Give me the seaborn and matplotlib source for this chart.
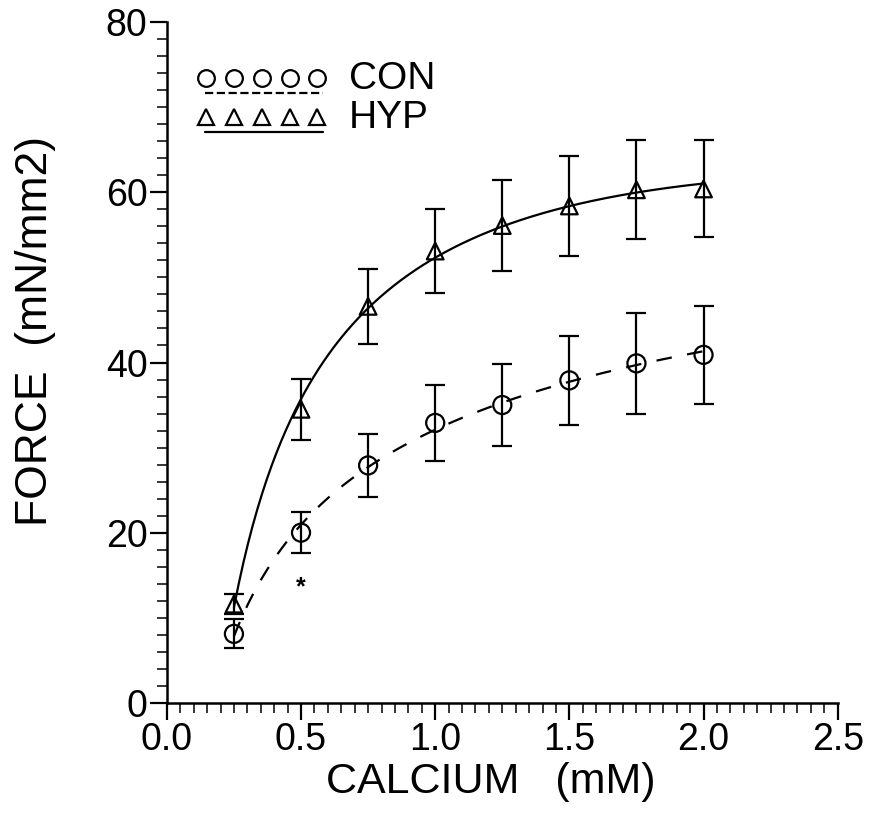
import numpy as np
import pandas as pd
import seaborn as sns
import matplotlib
matplotlib.use("Agg")
import matplotlib.pyplot as plt
from matplotlib.lines import Line2D
from matplotlib.legend_handler import HandlerBase
from matplotlib.ticker import MultipleLocator

# ---- data ----
calcium = [0.25, 0.5, 0.75, 1.0, 1.25, 1.5, 1.75, 2.0]
con_force = [8.1, 20.0, 27.9, 32.9, 35.0, 37.9, 39.9, 40.9]
con_err = [1.7, 2.4, 3.7, 4.5, 4.8, 5.2, 5.9, 5.8]
hyp_force = [11.6, 34.5, 46.6, 53.1, 56.1, 58.4, 60.3, 60.4]
hyp_err = [1.2, 3.6, 4.4, 4.9, 5.4, 5.9, 5.8, 5.7]
x_ticks = [0.0, 0.5, 1.0, 1.5, 2.0, 2.5]
y_ticks = [0, 20, 40, 60, 80]
series_labels = ["CON", "HYP"]

df = pd.DataFrame({
    "calcium": calcium * 2,
    "force": con_force + hyp_force,
    "err": con_err + hyp_err,
    "group": ["CON"] * len(calcium) + ["HYP"] * len(calcium),
})

sns.set_style("ticks")
plt.rcParams["font.family"] = ["Liberation Sans", "DejaVu Sans"]
plt.rcParams["text.color"] = "black"
plt.rcParams["axes.labelcolor"] = "black"

fig = plt.figure(figsize=(8.69, 8.22), dpi=100)
ax = fig.add_axes([0.192, 0.145, 0.772, 0.828])

styles = {
    "CON": dict(marker="o", ms=13, ls=(0, (7, 7))),
    "HYP": dict(marker="^", ms=12, ls="-"),
}

for g in series_labels:
    sub = df[df["group"] == g]
    st = styles[g]
    # smooth fitted curve: quadratic in log(concentration), fitted to the data
    coef = np.polyfit(np.log(sub["calcium"]), sub["force"], 2)
    xfit = np.linspace(sub["calcium"].min(), sub["calcium"].max(), 200)
    fit = pd.DataFrame({"calcium": xfit,
                        "force": np.polyval(coef, np.log(xfit))})
    sns.lineplot(data=fit, x="calcium", y="force", ax=ax, color="black",
                 lw=1.6, linestyle=st["ls"], zorder=2)
    ax.errorbar(sub["calcium"], sub["force"], yerr=sub["err"], fmt="none",
                ecolor="black", elinewidth=1.6, capsize=7, capthick=1.6,
                zorder=3)
    sns.scatterplot(data=sub, x="calcium", y="force", marker=st["marker"],
                    s=st["ms"] ** 2, facecolor="none", edgecolor="black",
                    linewidth=1.6, ax=ax, zorder=4)

ax.text(0.5, 13.6, "*", ha="center", va="center", fontsize=18,
        fontweight="bold", color="black")

ax.set_xlim(0, 2.5)
ax.set_ylim(0, 80)
ax.set_xticks(x_ticks)
ax.set_yticks(y_ticks)
ax.set_xticklabels([f"{v:.1f}" for v in x_ticks])
ax.set_yticklabels([str(v) for v in y_ticks])
ax.xaxis.set_minor_locator(MultipleLocator(0.05))
ax.yaxis.set_minor_locator(MultipleLocator(2))
ax.tick_params(axis="both", which="major", direction="out", length=12,
               width=1.6, labelsize=27, colors="black", pad=2)
ax.tick_params(axis="both", which="minor", direction="out", length=7,
               width=1.3)
for s in ["left", "bottom"]:
    ax.spines[s].set_linewidth(1.8)
    ax.spines[s].set_color("black")
sns.despine(ax=ax)

ax.set_xlabel("CALCIUM   (mM)", fontsize=31)
ax.xaxis.set_label_coords(0.483, -0.087)
ax.set_ylabel("FORCE  (mN/mm2)", fontsize=32)
ax.yaxis.set_label_coords(-0.165, 0.547)


class UnderlineHandler(HandlerBase):
    def create_artists(self, legend, orig_handle, xdescent, ydescent,
                       width, height, fontsize, trans):
        x0 = -xdescent
        xs = np.linspace(x0 + width * 0.05, x0 + width * 0.88, 5)
        ym = height / 2 - ydescent - height * 0.1
        marks = Line2D(xs, [ym] * 5, ls="none",
                       marker=orig_handle.get_marker(),
                       ms=orig_handle.get_markersize(), mfc="none",
                       mec="black", mew=1.6, transform=trans)
        line = Line2D([x0 + width * 0.04, x0 + width * 0.92],
                      [ym - height * 0.55] * 2,
                      ls=orig_handle.get_linestyle(), color="black",
                      lw=1.6, transform=trans)
        return [marks, line]


h_con = Line2D([], [], marker="o", ms=12, ls=(0, (4, 5)), color="black")
h_hyp = Line2D([], [], marker="^", ms=11, ls="-", color="black")
hm = UnderlineHandler()
ax.legend([h_con, h_hyp], series_labels, handler_map={h_con: hm, h_hyp: hm},
          loc="upper left", bbox_to_anchor=(0.049, 0.943), frameon=False,
          fontsize=28, handlelength=3.44, handletextpad=0.4,
          labelspacing=0.08, borderaxespad=0, borderpad=0)

fig.savefig("out.png", dpi=100)
